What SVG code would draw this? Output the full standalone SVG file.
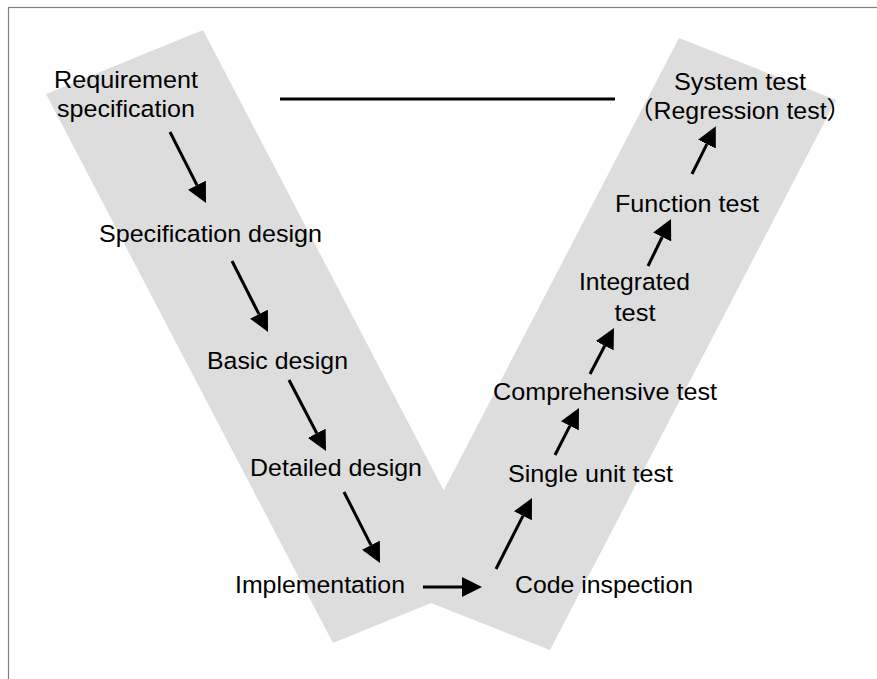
<svg xmlns="http://www.w3.org/2000/svg" width="877" height="679" viewBox="0 0 877 679">
<style>
.band{fill:#dddddd;stroke:none}
.lbl{font-family:"Liberation Sans","Noto Sans CJK JP",Arial,sans-serif;font-size:24.5px;fill:#000;text-anchor:middle}
.arr{stroke:#000;stroke-width:3;fill:none;marker-end:url(#ah)}
</style>
<defs>
<marker id="ah" markerUnits="userSpaceOnUse" markerWidth="20" markerHeight="20" viewBox="0 0 20 20" refX="0" refY="10" orient="auto">
<path d="M0,0 L20,10 L0,20 z" fill="#000"/>
</marker>
</defs>
<rect x="0" y="0" width="877" height="679" fill="#ffffff"/>
<rect x="8.5" y="7.5" width="900" height="700" fill="#ffffff" stroke="#808080" stroke-width="1.2"/>
<g id="bands">
<polygon class="band" points="679,38 836,100 550,650 393,588"/>
<polygon class="band" points="46,94 203,30 490,579 333,643"/>
</g>
<g id="connectors">
<line x1="280" y1="99" x2="615" y2="99" stroke="#000" stroke-width="3"/>
<line class="arr" x1="170" y1="132" x2="196.96" y2="185.16"/>
<line class="arr" x1="232" y1="261" x2="258.96" y2="314.16"/>
<line class="arr" x1="289" y1="380" x2="316.76" y2="433.26"/>
<line class="arr" x1="344" y1="492" x2="370.96" y2="545.16"/>
<line class="arr" x1="423" y1="587" x2="462" y2="587"/>
<line class="arr" x1="496" y1="569" x2="522.96" y2="515.84"/>
<line class="arr" x1="555" y1="455" x2="569.9" y2="425.82"/>
<line class="arr" x1="590" y1="374" x2="604.75" y2="345.72"/>
<line class="arr" x1="648" y1="266" x2="662.2" y2="236.98"/>
<line class="arr" x1="692" y1="174" x2="706.9" y2="144.18"/>
</g>
<g id="requirement-specification">
<text class="lbl" x="126" y="88" textLength="144" lengthAdjust="spacingAndGlyphs">Requirement</text>
<text class="lbl" x="126" y="117" textLength="138" lengthAdjust="spacingAndGlyphs">specification</text>
</g>
<g id="specification-design">
<text class="lbl" x="210.5" y="242" textLength="223" lengthAdjust="spacingAndGlyphs">Specification design</text>
</g>
<g id="basic-design">
<text class="lbl" x="277.5" y="369" textLength="141" lengthAdjust="spacingAndGlyphs">Basic design</text>
</g>
<g id="detailed-design">
<text class="lbl" x="336" y="476" textLength="172" lengthAdjust="spacingAndGlyphs">Detailed design</text>
</g>
<g id="implementation">
<text class="lbl" x="320" y="593" textLength="170" lengthAdjust="spacingAndGlyphs">Implementation</text>
</g>
<g id="code-inspection">
<text class="lbl" x="604" y="593" textLength="178" lengthAdjust="spacingAndGlyphs">Code inspection</text>
</g>
<g id="single-unit-test">
<text class="lbl" x="590.5" y="482" textLength="165" lengthAdjust="spacingAndGlyphs">Single unit test</text>
</g>
<g id="comprehensive-test">
<text class="lbl" x="605" y="400" textLength="224" lengthAdjust="spacingAndGlyphs">Comprehensive test</text>
</g>
<g id="integrated-test">
<text class="lbl" x="634.5" y="290" textLength="111" lengthAdjust="spacingAndGlyphs">Integrated</text>
<text class="lbl" x="635" y="321" textLength="41" lengthAdjust="spacingAndGlyphs">test</text>
</g>
<g id="function-test">
<text class="lbl" x="687" y="212" textLength="144" lengthAdjust="spacingAndGlyphs">Function test</text>
</g>
<g id="system-test">
<text class="lbl" x="740" y="90" textLength="132" lengthAdjust="spacingAndGlyphs">System test</text>
<text class="lbl" x="740" y="119" textLength="223" lengthAdjust="spacingAndGlyphs">（Regression test）</text>
</g>
</svg>
